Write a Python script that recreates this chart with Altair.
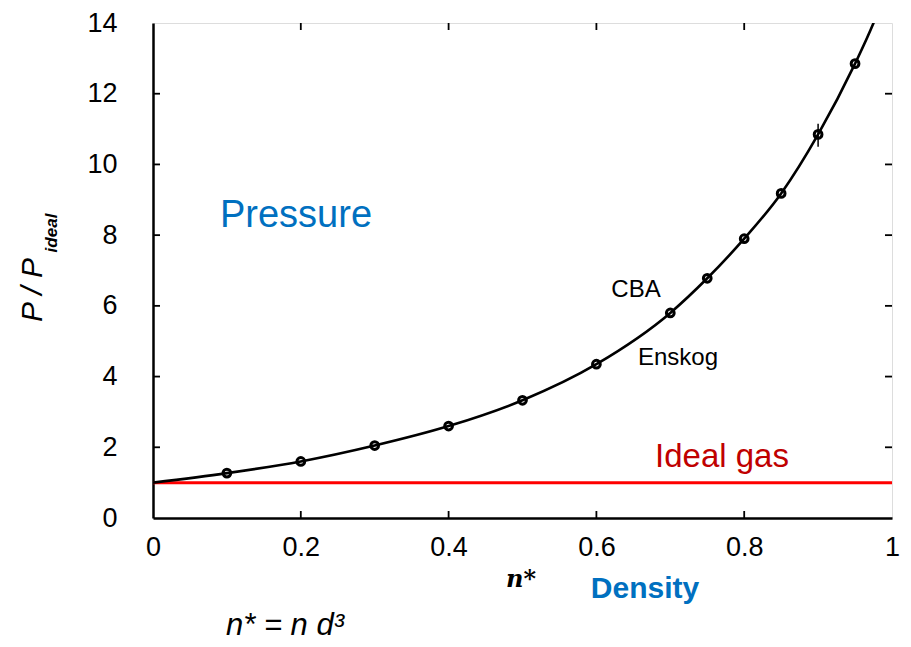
import altair as alt
import pandas as pd

# Curve (CBA / Enskog)
curve_n = [0.0, 0.1, 0.2, 0.3, 0.4, 0.5, 0.6, 0.7, 0.75, 0.8, 0.85, 0.9, 0.95, 0.975, 0.99]
curve_p = [1.0, 1.27, 1.6, 2.05, 2.6, 3.33, 4.35, 5.8, 6.78, 7.9, 9.18, 10.85, 12.85, 14.0, 14.8]

# Simulation points
pts_n = [0.1, 0.2, 0.3, 0.4, 0.5, 0.6, 0.7, 0.75, 0.8, 0.85, 0.9, 0.95]
pts_p = [1.27, 1.6, 2.05, 2.6, 3.33, 4.35, 5.8, 6.78, 7.9, 9.18, 10.85, 12.85]

# Error bar at n*=0.9
err_n = [0.9]
err_lo = [10.5]
err_hi = [11.15]

# Ideal gas
ideal_n = [0.0, 1.0]
ideal_p = [1.0, 1.0]

x_ticks = [0, 0.2, 0.4, 0.6, 0.8, 1.0]
y_ticks = [0, 2, 4, 6, 8, 10, 12, 14]
inner_x_ticks = [0.2, 0.4, 0.6, 0.8]
inner_y_ticks = [2, 4, 6, 8, 10, 12]

W, H = 739, 495
FONT = "Liberation Sans"
TICK = 7

xs = alt.Scale(domain=[0, 1], nice=False, zero=False)
ys = alt.Scale(domain=[0, 14], nice=False)

x_axis = alt.Axis(values=x_ticks, format="~g", ticks=False, grid=False,
                  labelFontSize=27, labelFont=FONT, labelColor="black",
                  labelPadding=16, domainColor="black", domainWidth=2.5,
                  labelFlush=False, title=None)
y_axis = alt.Axis(values=y_ticks, ticks=False, grid=False,
                  labelFontSize=27, labelFont=FONT, labelColor="black",
                  labelPadding=36, domainColor="black", domainWidth=2.5,
                  labelFlush=False, title=None)

curve_df = pd.DataFrame({"n": curve_n, "p": curve_p})
pts_df = pd.DataFrame({"n": pts_n, "p": pts_p})
err_df = pd.DataFrame({"n": err_n, "lo": err_lo, "hi": err_hi})
ideal_df = pd.DataFrame({"n": ideal_n, "p": ideal_p})

base_x = alt.X("n:Q", scale=xs, axis=x_axis)
base_y = alt.Y("p:Q", scale=ys, axis=y_axis)

curve = alt.Chart(curve_df).mark_line(color="black", strokeWidth=2.6,
                                      interpolate="monotone", clip=True).encode(
    x=base_x, y=base_y)

ideal = alt.Chart(ideal_df).mark_line(color="#ff0000", strokeWidth=3).encode(
    x=alt.X("n:Q", scale=xs), y=alt.Y("p:Q", scale=ys))

points = alt.Chart(pts_df).mark_point(shape="circle", filled=False, color="black",
                                      strokeWidth=3, size=60, opacity=1).encode(
    x=alt.X("n:Q", scale=xs), y=alt.Y("p:Q", scale=ys))

err = alt.Chart(err_df).mark_rule(color="black", strokeWidth=1.5).encode(
    x=alt.X("n:Q", scale=xs), y=alt.Y("lo:Q", scale=ys), y2="hi:Q")

# inward tick marks
ytk = pd.DataFrame({"p": inner_y_ticks})
xtk = pd.DataFrame({"n": inner_x_ticks})
left_ticks = alt.Chart(ytk).mark_rule(color="black", strokeWidth=1.8).encode(
    y=alt.Y("p:Q", scale=ys), x=alt.value(0), x2=alt.value(TICK))
right_ticks = alt.Chart(ytk).mark_rule(color="black", strokeWidth=1.8).encode(
    y=alt.Y("p:Q", scale=ys), x=alt.value(W - TICK), x2=alt.value(W))
bottom_ticks = alt.Chart(xtk).mark_rule(color="black", strokeWidth=1.8).encode(
    x=alt.X("n:Q", scale=xs), y=alt.value(H - TICK), y2=alt.value(H))
top_ticks = alt.Chart(xtk).mark_rule(color="black", strokeWidth=1.8).encode(
    x=alt.X("n:Q", scale=xs), y=alt.value(0), y2=alt.value(TICK))

def label(text, x, y, size, color="black", weight="normal", style="normal",
          angle=0, align="center", baseline="alphabetic", font=FONT):
    return alt.Chart(pd.DataFrame({"t": [text]})).mark_text(
        fontSize=size, color=color, fontWeight=weight, fontStyle=style,
        angle=angle, align=align, baseline=baseline, font=font, clip=False
    ).encode(text="t:N", x=alt.value(x), y=alt.value(y))

texts = [
    label("Pressure", 143, 204, 38, color="#0070C0"),
    label("CBA", 483, 274, 24),
    label("Enskog", 525, 342, 24),
    label("Ideal gas", 569, 444, 33, color="#C00000"),
    label("n*", 368, 564, 24, style="italic", weight="bold", font="DejaVu Serif"),
    label("Density", 492, 575, 30, color="#0070C0", weight="bold"),
    label("n* = n d³", 132, 612, 31, style="italic"),
    label("P / P", -111, 267, 30, style="italic", angle=270),
    label("ideal", -96, 210, 17, style="italic", weight="bold", angle=270),
]

chart = alt.layer(
    ideal, curve, err, points,
    left_ticks, right_ticks, bottom_ticks, top_ticks,
    *texts
).properties(
    width=W, height=H,
    autosize=alt.AutoSizeParams(type="none"),
    padding={"left": 145, "top": 15, "right": 10, "bottom": 128},
).configure_view(
    stroke="black", strokeWidth=2.5
).configure(background="white")

chart.save("out.html", embed_options={"renderer": "svg", "actions": False})
